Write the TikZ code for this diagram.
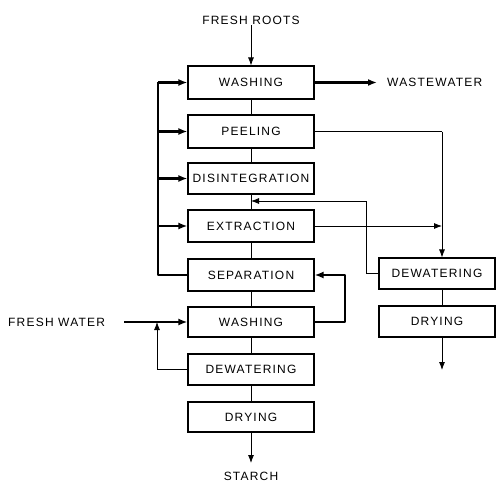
\documentclass[tikz,border=0pt]{standalone}
\usepackage{fontspec}
\setmainfont{Liberation Sans}[LetterSpace=10]
\usetikzlibrary{arrows.meta}
\begin{document}
\begin{tikzpicture}[x=1pt,y=-1pt,
  font=\fontsize{12}{13}\selectfont,
  box/.style={draw,line width=1.1pt,minimum width=126pt,minimum height=31pt,inner sep=0pt,anchor=center},
  rbox/.style={draw,line width=1.1pt,minimum width=116pt,minimum height=31pt,inner sep=0pt,anchor=center},
  thin/.style={line width=0.8pt},
  thick/.style={line width=2.6pt},
  arr/.style={-{Latex[length=8pt,width=6pt]}},
  tarr/.style={-{Latex[length=9pt,width=7pt]}},
  lbl/.style={inner sep=1pt}]
\useasboundingbox (0,0) rectangle (497,484);
% main column
\node[lbl] (roots) at (251,20) {FRESH ROOTS};
\node[box,minimum height=33pt] (w1) at (251,82.5) {WASHING};
\node[box,minimum height=33pt] (peel) at (251,131.5) {PEELING};
\node[box] (dis) at (251,178.5) {DISINTEGRATION};
\node[box,minimum height=32pt] (ext) at (251,226) {EXTRACTION};
\node[box,minimum height=32pt] (sep) at (251,275) {SEPARATION};
\node[box,minimum height=30pt] (w2) at (251,322) {WASHING};
\node[box] (dew) at (251,369.5) {DEWATERING};
\node[box,minimum height=30pt] (dry) at (251,417) {DRYING};
\node[lbl] (starch) at (251,476) {STARCH};
% right column
\node[rbox] (rdew) at (437,273.5) {DEWATERING};
\node[rbox] (rdry) at (437,321.5) {DRYING};
\node[lbl,anchor=west] (waste) at (386,82.5) {WASTEWATER};
\node[lbl,anchor=west] (fw) at (7,322) {FRESH WATER};
% coordinates
\coordinate (bustop) at (158,82.5);
\coordinate (busbot) at (158,275);
\coordinate (bpeel) at (158,131.5);
\coordinate (bdis) at (158,178.5);
\coordinate (bext) at (158,226);
\coordinate (pc) at (442,131.5);
\coordinate (ej) at (442,226);
\coordinate (rl1) at (366,273.5);
\coordinate (rl2) at (366,201);
\coordinate (rin) at (251,201);
\coordinate (lw1) at (345,322);
\coordinate (lw2) at (345,275);
\coordinate (dl1) at (157,369.5);
\coordinate (dl2) at (157,322);
\coordinate (rout) at (442,370);
\coordinate (wend) at (377,82.5);
\coordinate (fws) at (124,322);
\coordinate (send) at (251,463);
% vertical flow
\draw[thin,arr] (roots.south) -- (w1.north);
\draw[thin] (w1) -- (peel);
\draw[thin] (peel) -- (dis);
\draw[thin] (dis) -- (ext);
\draw[thin] (ext) -- (sep);
\draw[thin] (sep) -- (w2);
\draw[thin] (w2) -- (dew);
\draw[thin] (dew) -- (dry);
\draw[thin,arr] (dry.south) -- (send);
% recycle bus
\draw[thick,line join=round] (sep.west) -- (busbot) -- (bustop);
\draw[thick,tarr] (bustop) -- (w1.west);
\draw[thick,tarr] (bpeel) -- (peel.west);
\draw[thick,tarr] (bdis) -- (dis.west);
\draw[thick,tarr] (bext) -- (ext.west);
% wastewater
\draw[thick,tarr] (w1.east) -- (wend);
% peeling to dewatering
\draw[thin] (peel.east) -- (pc);
\draw[thin,arr] (pc) -- (rdew.north -| pc);
\draw[thin,arr] (ext.east) -- (ej);
% dewatering back to disintegration
\draw[thin,arr] (rdew.west) -- (rl1) -- (rl2) -- (rin);
% washing to separation loop
\draw[thick,tarr,line join=round] (w2.east) -- (lw1) -- (lw2) -- (sep.east);
% fresh water
\draw[thick,tarr] (fws) -- (w2.west);
\draw[thin,arr] (dew.west) -- (dl1) -- (dl2);
% right column
\draw[thin] (rdew.south -| pc) -- (rdry.north -| pc);
\draw[thin,arr] (rdry.south -| pc) -- (rout);
\end{tikzpicture}
\end{document}
